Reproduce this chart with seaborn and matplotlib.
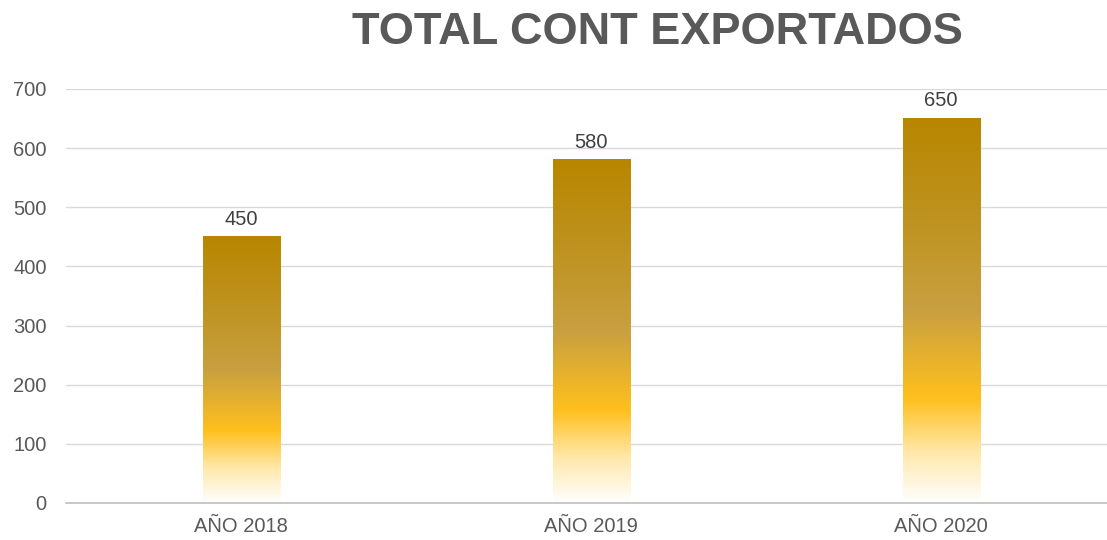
import numpy as np
import pandas as pd
import matplotlib
matplotlib.use("Agg")
import matplotlib.pyplot as plt
from matplotlib.colors import LinearSegmentedColormap
import seaborn as sns

categories = ["AÑO 2018", "AÑO 2019", "AÑO 2020"]
values = [450, 580, 650]
title = "TOTAL CONT EXPORTADOS"

sns.set_theme(style="white")
plt.rcParams['font.family'] = ['Liberation Sans', 'DejaVu Sans']

df = pd.DataFrame({"cat": categories, "val": values})

fig = plt.figure(figsize=(11.07, 5.40), dpi=100)
ax = fig.add_axes([66/1107, 37/540, (1107-66)/1107, (503-89)/540])

sns.barplot(data=df, x="cat", y="val", ax=ax, width=0.22, color="#C9A040", zorder=2)

ax.set_ylim(0, 700)
ax.set_xlim(-0.5, 2.474)
ax.set_yticks(range(0, 701, 100))
ax.yaxis.grid(True, color="#D9D9D9", linewidth=1.0, zorder=0)
ax.set_axisbelow(True)
for s in ["top", "right", "left"]:
    ax.spines[s].set_visible(False)
ax.spines["bottom"].set_color("#BFBFBF")
ax.spines["bottom"].set_linewidth(1.2)
ax.tick_params(axis="both", length=0, labelsize=14.5, colors="#595959")
ax.tick_params(axis="y", pad=14)
ax.tick_params(axis="x", pad=10)
ax.set_xlabel("")
ax.set_ylabel("")

cmap = LinearSegmentedColormap.from_list("g", [
    (0.0, (184/255, 134/255, 0/255)),
    (0.25, (190/255, 146/255, 30/255)),
    (0.5, (200/255, 160/255, 64/255)),
    (0.73, (255/255, 192/255, 30/255)),
    (0.87, (255/255, 232/255, 170/255)),
    (1.0, (1, 1, 1)),
])
grad = np.linspace(0, 1, 256).reshape(-1, 1)
for p, v in zip(ax.patches, values):
    x0, y0 = p.get_x(), p.get_y()
    w, h = p.get_width(), p.get_height()
    p.set_facecolor("none")
    p.set_edgecolor("none")
    ax.imshow(grad, cmap=cmap, aspect="auto", extent=[x0, x0 + w, y0, y0 + h],
              origin="upper", zorder=2)
    ax.annotate(f"{v}", (x0 + w / 2, y0 + h), xytext=(0, 6), textcoords="offset points",
                ha="center", va="bottom", fontsize=14.5, color="#404040")
ax.set_xlim(-0.5, 2.474)
ax.set_ylim(0, 700)

fig.text(657/1107, 1 - 33/540, title, ha="center", va="center",
         fontsize=32.5, fontweight="bold", color="#595959")

fig.savefig("out.png", dpi=100, facecolor="white")
